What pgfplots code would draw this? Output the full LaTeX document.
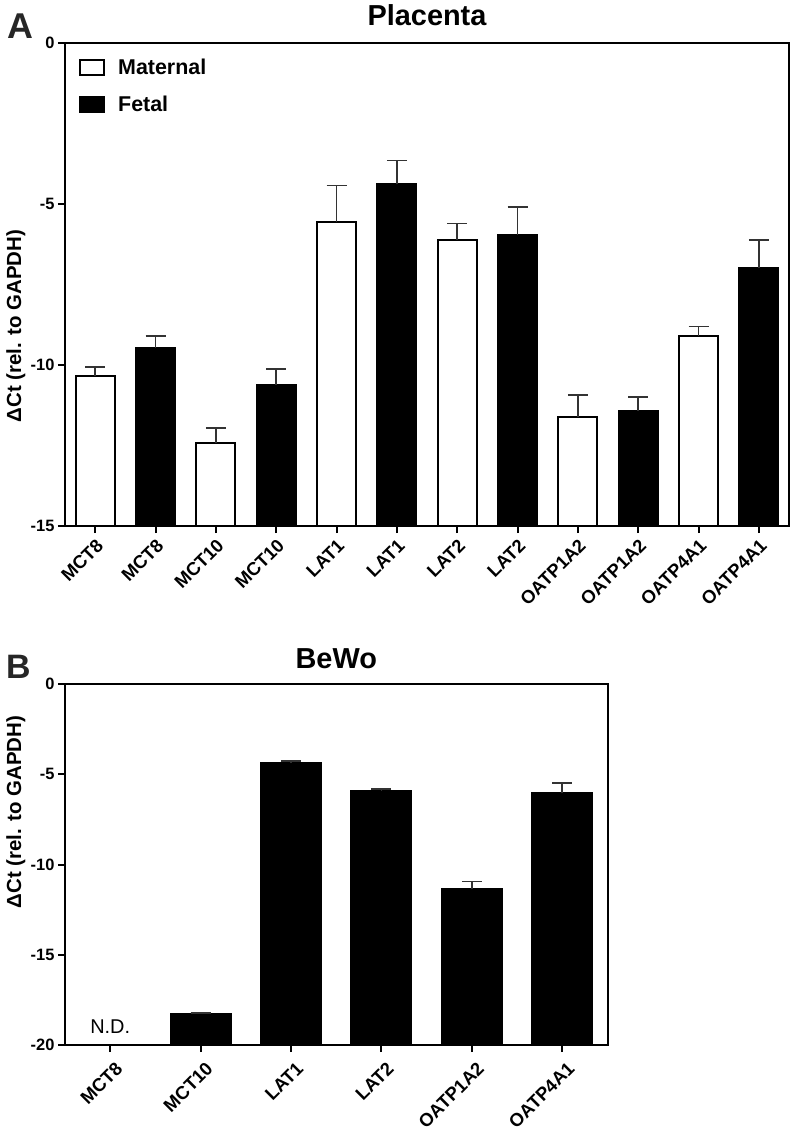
\documentclass[border=0pt]{standalone}
\usepackage{pgfplots}
\pgfplotsset{compat=1.18}
\usepackage{pgfplotstable}
\usepackage{fontspec}
\setmainfont{Liberation Sans}

\pgfplotstableread{
x y err
0 -10.34 0.27
2 -12.43 0.48
4 -5.55 1.12
6 -6.12 0.52
8 -11.62 0.69
10 -9.09 0.28
}\maternal
\pgfplotstableread{
x y err
1 -9.46 0.36
3 -10.62 0.49
5 -4.39 0.74
7 -5.96 0.86
9 -11.43 0.43
11 -7.00 0.88
}\fetal
\pgfplotstableread{
x y err
1 -18.27 0.05
2 -4.36 0.11
3 -5.91 0.10
4 -11.38 0.43
5 -6.06 0.59
}\bewo

\pgfplotsset{
  panel/.style={
    scale only axis,
    clip=false,
    axis line style={line width=2bp, black},
    every tick/.style={line width=2bp, black},
    major tick length=7bp,
    tick align=outside,
    xtick pos=bottom, ytick pos=left,
    tick label style={font=\bfseries\fontsize{16.5}{19}\selectfont},
    xticklabel style={rotate=45, anchor=north east, font=\bfseries\fontsize{18.5}{21}\selectfont},
  },
  bars/.style={
    ybar, bar shift=0pt, draw=black, line width=2bp,
    error bars/y dir=plus, error bars/y explicit,
    error bars/error bar style={line width=1.6bp, black!80},
    error bars/error mark options={line width=1.6bp, black!80, mark size=10bp, rotate=90},
  },
}

\begin{document}
\begin{tikzpicture}
\useasboundingbox (0,0) rectangle (792bp,-1131bp);

% Panel A
\begin{axis}[panel,
  at={(65bp,-526bp)}, anchor=south west,
  width=724bp, height=483bp,
  xmin=-0.5, xmax=11.5, ymin=0, ymax=15,
  y filter/.expression={y+15},
  xtick={0,...,11},
  xticklabels={MCT8,MCT8,MCT10,MCT10,LAT1,LAT1,LAT2,LAT2,OATP1A2,OATP1A2,OATP4A1,OATP4A1},
  ytick={0,5,10,15}, yticklabels={-15,-10,-5,0},
  title={Placenta},
  every axis title/.style={at={(axis description cs:0.5,1)}, anchor=base, yshift=18bp, font=\bfseries\fontsize{29}{34}\selectfont},
  ylabel={ΔCt (rel. to GAPDH)},
  every axis y label/.style={at={(axis description cs:-0.0680,0.414)}, rotate=90, anchor=center, font=\bfseries\fontsize{20.5}{24}\selectfont},
  legend style={at={(axis description cs:0,1)}, anchor=north west, xshift=14bp, yshift=-15bp,
    draw=none, fill=none, inner sep=0pt, row sep=17.5bp, column sep=12bp,
    nodes={inner sep=1bp},
    font=\bfseries\fontsize{21.5}{25}\selectfont},
  legend cell align=left,
]
\addplot[bars, fill=white, bar width=38.7bp,
  legend image code/.code={\draw[draw=black, fill=white, line width=2bp] (0bp,-7.5bp) rectangle (24bp,7.5bp);}]
  table[x=x, y=y, y error=err]{\maternal};
\addlegendentry{Maternal}
\addplot[bars, fill=black, bar width=38.7bp,
  legend image code/.code={\draw[draw=black, fill=black, line width=2bp] (0bp,-7.5bp) rectangle (24bp,7.5bp);}]
  table[x=x, y=y, y error=err]{\fetal};
\addlegendentry{Fetal}
\end{axis}

% Panel B
\begin{axis}[panel,
  at={(65bp,-1045bp)}, anchor=south west,
  width=542.5bp, height=361bp,
  xmin=-0.5, xmax=5.5, ymin=0, ymax=20,
  y filter/.expression={y+20},
  xtick={0,...,5},
  xticklabels={MCT8,MCT10,LAT1,LAT2,OATP1A2,OATP4A1},
  xticklabel style={yshift=-6bp},
  ytick={0,5,10,15,20}, yticklabels={-20,-15,-10,-5,0},
  title={BeWo},
  every axis title/.style={at={(axis description cs:0.5,1)}, anchor=base, yshift=16bp, font=\bfseries\fontsize{29}{34}\selectfont},
  ylabel={ΔCt (rel. to GAPDH)},
  every axis y label/.style={at={(axis description cs:-0.0908,0.645)}, rotate=90, anchor=center, font=\bfseries\fontsize{20.5}{24}\selectfont},
]
\addplot[bars, fill=black, bar width=60bp] table[x=x, y=y, y error=err]{\bewo};
\node[anchor=base, font=\fontsize{20}{24}\selectfont] at (rel axis cs:0.0833,0.0332) {N.D.};
\end{axis}

\node[anchor=base west, inner sep=0pt, text=black!85, font=\bfseries\fontsize{36}{40}\selectfont] at (7bp,-38bp) {A};
\node[anchor=base west, inner sep=0pt, text=black!85, font=\bfseries\fontsize{34}{38}\selectfont] at (6bp,-678bp) {B};
\end{tikzpicture}
\end{document}
